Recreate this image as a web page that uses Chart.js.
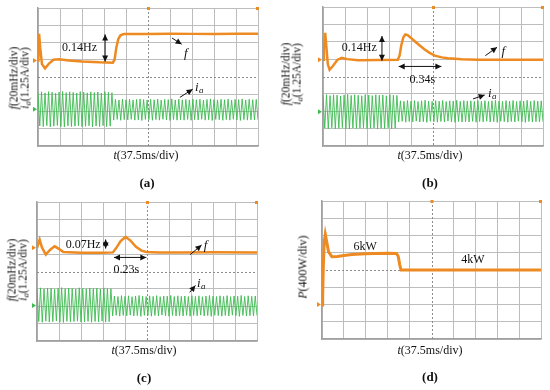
<!DOCTYPE html>
<html>
<head>
<meta charset="utf-8">
<script src="https://cdn.jsdelivr.net/npm/chart.js@4.4.0/dist/chart.umd.min.js"></script>
<style>
body { margin: 0; background: #fff; width: 550px; height: 390px; position: relative; overflow: hidden; font-family: "Liberation Serif", serif; }
.panel { position: absolute; width: 275px; height: 195px; }
.panel canvas { position: absolute; left: 0; top: 0; }
.t { position: absolute; font-size: 12px; line-height: 12px; white-space: nowrap; color: #111; transform: translate(-50%, -50%); text-align: center; }
.rot { transform: translate(-50%, -50%) rotate(-90deg); font-size: 11.5px; line-height: 11px; }
.cap { font-weight: bold; font-size: 13px; }
.sb { font-size: 8.5px; position: relative; top: 2px; }
</style>
</head>
<body>

<div class="panel" style="left:0;top:0">
  <canvas id="pa" width="275" height="195"></canvas>
  <div class="t rot" style="left:20px;top:78px"><i>f</i>(20mHz/div)<br><i>i<span class="sb">a</span></i>(1.25A/div)</div>
  <div class="t" style="left:146px;top:155px"><i>t</i>(37.5ms/div)</div>
  <div class="t cap" style="left:147px;top:183px">(a)</div>
</div>

<div class="panel" style="left:275px;top:0">
  <canvas id="pb" width="275" height="195"></canvas>
  <div class="t rot" style="left:17px;top:74px"><i>f</i>(20mHz/div)<br><i>i<span class="sb">a</span></i>(1.25A/div)</div>
  <div class="t" style="left:155px;top:155px"><i>t</i>(37.5ms/div)</div>
  <div class="t cap" style="left:155px;top:183px">(b)</div>
</div>

<div class="panel" style="left:0;top:195px">
  <canvas id="pc" width="275" height="195"></canvas>
  <div class="t rot" style="left:18px;top:75px"><i>f</i>(20mHz/div)<br><i>i<span class="sb">a</span></i>(1.25A/div)</div>
  <div class="t" style="left:144px;top:155px"><i>t</i>(37.5ms/div)</div>
  <div class="t cap" style="left:144px;top:183px">(c)</div>
</div>

<div class="panel" style="left:275px;top:195px">
  <canvas id="pd" width="275" height="195"></canvas>
  <div class="t rot" style="left:28px;top:72px;font-size:12px"><i>P</i>(400W/div)</div>
  <div class="t" style="left:155px;top:155px"><i>t</i>(37.5ms/div)</div>
  <div class="t cap" style="left:155px;top:182px">(d)</div>
</div>

<script>
// all values in screen divisions (x: 0..10 div, y: 0..8 div)

// (a) frequency trace
const fTimeA = [0, 0.02, 0.05, 0.1, 0.18, 0.32, 0.5, 0.7, 0.95, 1.4, 2.0, 2.8, 3.4, 3.48, 3.56, 3.65, 3.75, 3.9, 4.2, 5, 6, 7, 8, 9, 10];
const fValA  = [4.95, 5.8, 6.5, 5.7, 4.75, 4.5, 4.78, 5.0, 5.03, 4.96, 4.9, 4.85, 4.83, 5.0, 5.7, 6.2, 6.42, 6.49, 6.5, 6.5, 6.51, 6.5, 6.5, 6.51, 6.5];

// (b) frequency trace
const fTimeB = [0, 0.04, 0.1, 0.16, 0.22, 0.3, 0.45, 0.65, 0.85, 1.1, 1.6, 2.5, 3.4, 3.48, 3.56, 3.65, 3.74, 3.85, 4.0, 4.17, 4.4, 4.62, 4.85, 5.08, 5.4, 5.68, 6.3, 7, 8, 9, 10];
const fValB  = [4.97, 5.6, 6.51, 5.6, 4.7, 4.39, 4.6, 4.95, 5.07, 5.0, 4.93, 4.95, 4.97, 5.2, 5.8, 6.25, 6.42, 6.38, 6.22, 6.03, 5.78, 5.55, 5.36, 5.2, 5.1, 5.05, 4.99, 4.97, 4.97, 4.97, 4.97];

// (c) frequency trace
const fTimeC = [0, 0.06, 0.12, 0.22, 0.4, 0.6, 0.8, 1.0, 1.2, 2.0, 3.0, 3.45, 3.6, 3.8, 4.03, 4.25, 4.5, 4.75, 4.97, 5.5, 6.5, 8, 10];
const fValC  = [5.36, 5.6, 5.84, 5.4, 4.97, 5.25, 5.45, 5.3, 5.12, 5.08, 5.08, 5.1, 5.35, 5.75, 5.99, 5.78, 5.42, 5.2, 5.12, 5.1, 5.1, 5.11, 5.1];

// (d) power trace
const pTime = [0, 0.03, 0.06, 0.1, 0.15, 0.22, 0.3, 0.45, 0.7, 1.0, 1.36, 2.0, 2.4, 3.0, 3.4, 3.48, 3.55, 3.61, 3.7, 4.5, 6, 8, 10];
const pVal  = [1.97, 2.5, 4.2, 5.6, 6.07, 5.6, 5.05, 4.77, 4.78, 4.84, 4.9, 4.94, 4.96, 4.97, 4.96, 4.8, 4.3, 4.0, 4.0, 4.0, 4.0, 4.0, 4.0];

// phase current peaks, one value every iaStep div
const iaStep = 0.08;
const iaA = [
  3.10,1.16,3.14,1.12,3.08,1.18,3.15,1.11,3.12,1.15,3.06,1.19,3.13,1.12,3.16,1.10,3.09,1.17,3.14,1.13,
  3.11,1.15,3.07,1.18,3.15,1.12,3.12,1.14,3.08,1.17,3.14,1.11,3.10,1.16,3.13,1.13,3.07,1.18,3.15,1.12,
  3.11,1.15,3.09,
  1.50,2.70,1.54,2.67,1.49,2.72,1.53,2.68,1.51,2.71,1.55,2.66,1.50,2.70,1.52,2.73,1.48,2.69,1.54,2.67,
  1.52,2.71,1.49,2.68,1.53,2.72,1.50,2.66,1.55,2.70,1.51,2.69,1.48,2.73,1.53,2.67,1.50,2.71,1.52,2.68,
  1.50,2.70,1.54,2.67,1.49,2.72,1.53,2.68,1.51,2.71,1.55,2.66,1.50,2.70,1.52,2.73,1.48,2.69,1.54,2.67,
  1.52,2.71,1.49,2.68,1.53,2.72,1.50,2.66,1.55,2.70,1.51,2.69,1.48,2.73,1.53,2.67,1.50,2.71,1.52,2.68,
  1.51,2.70,1.52
];
const iaB = [
  2.92,1.03,2.96,0.99,2.90,1.05,2.95,1.00,2.93,1.02,2.88,1.06,2.94,0.99,2.97,0.98,2.91,1.04,2.95,1.01,
  2.92,1.03,2.89,1.05,2.96,1.00,2.93,1.02,2.90,1.04,2.95,0.99,2.92,1.03,2.94,1.01,2.89,1.05,2.96,1.00,
  2.92,1.02,2.91,
  1.38,2.60,1.42,2.57,1.37,2.62,1.41,2.58,1.39,2.61,1.43,2.56,1.38,2.60,1.40,2.63,1.36,2.59,1.42,2.57,
  1.40,2.61,1.37,2.58,1.41,2.62,1.38,2.56,1.43,2.60,1.39,2.59,1.36,2.63,1.41,2.57,1.38,2.61,1.40,2.58,
  1.38,2.60,1.42,2.57,1.37,2.62,1.41,2.58,1.39,2.61,1.43,2.56,1.38,2.60,1.40,2.63,1.36,2.59,1.42,2.57,
  1.40,2.61,1.37,2.58,1.41,2.62,1.38,2.56,1.43,2.60,1.39,2.59,1.36,2.63,1.41,2.57,1.38,2.61,1.40,2.58,
  1.39,2.60,1.40
];
const iaC = [
  3.02,1.12,3.06,1.08,3.00,1.14,3.05,1.09,3.03,1.11,2.98,1.15,3.04,1.08,3.07,1.07,3.01,1.13,3.05,1.10,
  3.02,1.12,2.99,1.14,3.06,1.09,3.03,1.11,3.00,1.13,3.05,1.08,3.02,1.12,3.04,1.10,2.99,1.14,3.06,1.09,
  3.02,1.11,3.01,
  1.44,2.59,1.48,2.56,1.43,2.61,1.47,2.57,1.45,2.60,1.49,2.55,1.44,2.59,1.46,2.62,1.42,2.58,1.48,2.56,
  1.46,2.60,1.43,2.57,1.47,2.61,1.44,2.55,1.49,2.59,1.45,2.58,1.42,2.62,1.47,2.56,1.44,2.60,1.46,2.57,
  1.44,2.59,1.48,2.56,1.43,2.61,1.47,2.57,1.45,2.60,1.49,2.55,1.44,2.59,1.46,2.62,1.42,2.58,1.48,2.56,
  1.46,2.60,1.43,2.57,1.47,2.61,1.44,2.55,1.49,2.59,1.45,2.58,1.42,2.62,1.47,2.56,1.44,2.60,1.46,2.57,
  1.45,2.59,1.46
];

const ORANGE = '#ee8a22';
const GREEN = '#3dbb50';

// annotations per panel (div coordinates)
const deco = {
  pa: {
    texts: [{ x: 1.89, y: 5.68, s: '0.14Hz' }],
    arrows: [
      { x1: 3.05, y1: 4.9, x2: 3.05, y2: 6.47, both: true },
      { x1: 6.09, y1: 6.26, x2: 6.53, y2: 5.9 },
      { x1: 6.45, y1: 2.82, x2: 7.03, y2: 3.29 }
    ],
    f: { x: 6.64, y: 5.36 }, ia: { x: 7.14, y: 3.36 },
    marks: { f: 4.95, ia: 2.13 }
  },
  pb: {
    texts: [{ x: 1.65, y: 5.66, s: '0.14Hz' }, { x: 4.52, y: 3.81, s: '0.34s' }],
    arrows: [
      { x1: 2.68, y1: 4.91, x2: 2.68, y2: 6.33, both: true },
      { x1: 3.44, y1: 4.58, x2: 5.38, y2: 4.58, both: true },
      { x1: 7.38, y1: 5.2, x2: 7.91, y2: 5.68 },
      { x1: 6.82, y1: 2.71, x2: 7.35, y2: 2.94 }
    ],
    f: { x: 8.11, y: 5.43 }, ia: { x: 7.5, y: 3.0 },
    marks: { f: 4.97, ia: 1.97 }
  },
  pc: {
    texts: [{ x: 2.1, y: 5.55, s: '0.07Hz' }, { x: 4.06, y: 4.1, s: '0.23s' }],
    arrows: [
      { x1: 3.12, y1: 5.32, x2: 3.12, y2: 5.84, both: true },
      { x1: 3.5, y1: 4.81, x2: 4.97, y2: 4.81, both: true },
      { x1: 6.96, y1: 4.97, x2: 7.48, y2: 5.52 },
      { x1: 6.94, y1: 2.8, x2: 7.2, y2: 3.2 }
    ],
    f: { x: 7.58, y: 5.5 }, ia: { x: 7.27, y: 3.29 },
    marks: { f: 5.36, ia: 2.05 }
  },
  pd: {
    texts: [{ x: 1.97, y: 5.35, s: '6kW' }, { x: 6.89, y: 4.58, s: '4kW' }],
    arrows: [],
    marks: { f: 2.0 }
  }
};

function arrowHead(ctx, x1, y1, x2, y2) {
  const a = Math.atan2(y2 - y1, x2 - x1), L = 6, W = 3;
  ctx.beginPath();
  ctx.moveTo(x2, y2);
  ctx.lineTo(x2 - L * Math.cos(a) + W * Math.sin(a), y2 - L * Math.sin(a) - W * Math.cos(a));
  ctx.lineTo(x2 - L * Math.cos(a) - W * Math.sin(a), y2 - L * Math.sin(a) + W * Math.cos(a));
  ctx.closePath();
  ctx.fill();
}

const decoPlugin = {
  id: 'deco',
  beforeDatasetsDraw(chart) {
    const { ctx, chartArea: a, scales: { x, y } } = chart;
    const cx = Math.round(x.getPixelForValue(5)) + 0.5;
    const cy = Math.round(y.getPixelForValue(4)) + 0.5;
    ctx.save();
    ctx.strokeStyle = '#8c8c8c';
    ctx.lineWidth = 1;
    ctx.setLineDash([2, 2]);
    ctx.beginPath();
    ctx.moveTo(cx, a.top); ctx.lineTo(cx, a.bottom);
    ctx.moveTo(a.left, cy); ctx.lineTo(a.right, cy);
    ctx.stroke();
    ctx.restore();
  },
  afterDraw(chart) {
    const d = deco[chart.canvas.id];
    if (!d) return;
    const { ctx, chartArea: a, scales: { x, y } } = chart;
    const px = v => x.getPixelForValue(v), py = v => y.getPixelForValue(v);
    ctx.save();
    // scope markers
    ctx.fillStyle = ORANGE;
    ctx.fillRect(px(5) - 1, a.top - 1, 3, 3);
    ctx.fillRect(px(10) - 2, a.top - 1, 3, 3);
    const mk = (v, col) => {
      const yy = py(v);
      ctx.fillStyle = col;
      ctx.beginPath();
      ctx.moveTo(a.left - 1, yy);
      ctx.lineTo(a.left - 5, yy - 2.5);
      ctx.lineTo(a.left - 5, yy + 2.5);
      ctx.closePath();
      ctx.fill();
    };
    if (d.marks.f != null) mk(d.marks.f, ORANGE);
    if (d.marks.ia != null) mk(d.marks.ia, GREEN);

    ctx.fillStyle = '#111';
    ctx.strokeStyle = '#111';
    ctx.lineWidth = 1;
    ctx.font = '12px "Liberation Serif", serif';
    ctx.textAlign = 'center';
    ctx.textBaseline = 'middle';
    d.texts.forEach(t => ctx.fillText(t.s, px(t.x), py(t.y)));
    d.arrows.forEach(r => {
      const x1 = px(r.x1), y1 = py(r.y1), x2 = px(r.x2), y2 = py(r.y2);
      ctx.beginPath(); ctx.moveTo(x1, y1); ctx.lineTo(x2, y2); ctx.stroke();
      arrowHead(ctx, x1, y1, x2, y2);
      if (r.both) arrowHead(ctx, x2, y2, x1, y1);
    });
    ctx.textAlign = 'left';
    if (d.f) {
      ctx.font = 'italic 13px "Liberation Serif", serif';
      ctx.fillText('f', px(d.f.x), py(d.f.y));
    }
    if (d.ia) {
      ctx.font = 'italic 13px "Liberation Serif", serif';
      const ix = px(d.ia.x), iy = py(d.ia.y);
      ctx.fillText('i', ix, iy);
      ctx.font = 'italic 9px "Liberation Serif", serif';
      ctx.fillText('a', ix + 4, iy + 3);
    }
    ctx.restore();
  }
};

const gridColor = mid => c => (c.tick && c.tick.value === mid) ? 'rgba(0,0,0,0)' : '#bdbdbd';

function pts(xs, ys) { return ys.map((v, i) => ({ x: xs[i], y: v })); }
function iaPts(vals) { return vals.map((v, i) => ({ x: i * iaStep, y: v })); }

function makePanel(id, datasets, pad) {
  new Chart(document.getElementById(id), {
    type: 'line',
    data: { datasets: datasets },
    options: {
      responsive: false,
      animation: false,
      events: [],
      layout: { padding: pad },
      plugins: { legend: { display: false }, tooltip: { enabled: false } },
      elements: { point: { radius: 0 }, line: { tension: 0 } },
      scales: {
        x: {
          type: 'linear', min: 0, max: 10,
          ticks: { display: false, stepSize: 1 },
          grid: { color: gridColor(5), drawTicks: false },
          border: { color: '#a0a0a0', width: 1.5 }
        },
        y: {
          type: 'linear', min: 0, max: 8,
          ticks: { display: false, stepSize: 1 },
          grid: { color: gridColor(4), drawTicks: false },
          border: { color: '#a0a0a0', width: 1.5 }
        }
      }
    },
    plugins: [decoPlugin]
  });
}

const fLine = (xs, ys, w) => ({ data: pts(xs, ys), borderColor: ORANGE, borderWidth: w, fill: false });
const iaLine = vals => ({ data: iaPts(vals), borderColor: GREEN, borderWidth: 0.9, fill: false });

makePanel('pa', [fLine(fTimeA, fValA, 2.5), iaLine(iaA)], { left: 38, right: 17, top: 8, bottom: 49 });
makePanel('pb', [fLine(fTimeB, fValB, 2.5), iaLine(iaB)], { left: 48, right: 7, top: 7, bottom: 49 });
makePanel('pc', [fLine(fTimeC, fValC, 2.5), iaLine(iaC)], { left: 37, right: 18, top: 7, bottom: 49 });
makePanel('pd', [fLine(pTime, pVal, 3)], { left: 47, right: 9, top: 6, bottom: 51 });
</script>
</body>
</html>
